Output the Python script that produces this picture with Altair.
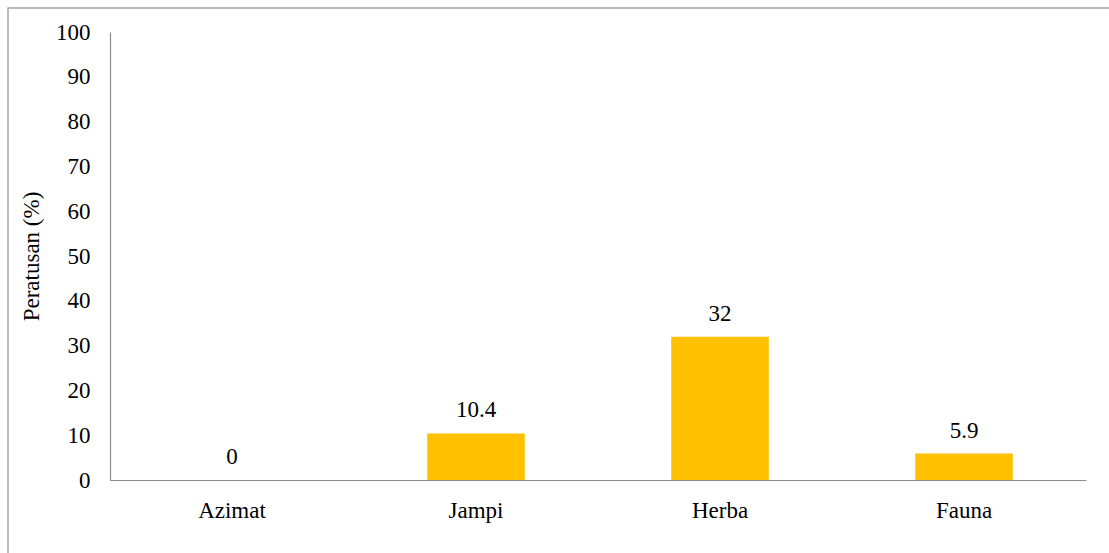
import altair as alt
import pandas as pd

categories = ["Azimat", "Jampi", "Herba", "Fauna"]
values = [0, 10.4, 32, 5.9]

df = pd.DataFrame({"kategori": categories, "nilai": values})

FONT = "Liberation Serif"
W, H = 976, 448

base = alt.Chart(df)

bars = base.mark_bar(color="#FFC000").encode(
    x=alt.X("kategori:N", sort=categories,
            scale=alt.Scale(paddingInner=0.6, paddingOuter=0.3),
            axis=alt.Axis(title=None, labelAngle=0, ticks=False, labelPadding=19,
                          labelFontSize=23, labelFont=FONT, labelColor="#000000",
                          domainColor="#8c8c8c", domainWidth=1.2)),
    y=alt.Y("nilai:Q", scale=alt.Scale(domain=[0, 100], nice=False),
            axis=alt.Axis(title="Peratusan (%)", values=list(range(0, 101, 10)),
                          grid=False, ticks=False, labelPadding=20,
                          labelFontSize=23, labelFont=FONT, labelColor="#000000",
                          titleFontSize=23, titleFont=FONT, titleFontWeight="normal",
                          titleColor="#000000", titleX=-67, titleY=H / 2,
                          titleAngle=-90, titleBaseline="bottom", titleAlign="center",
                          domainColor="#8c8c8c", domainWidth=1.2)),
)

labels = base.mark_text(baseline="alphabetic", dy=-16, fontSize=23, font=FONT,
                        color="#000000").encode(
    x=alt.X("kategori:N", sort=categories),
    y=alt.Y("nilai:Q"),
    text=alt.Text("nilai:Q", format="~g"),
)

border = alt.Chart(pd.DataFrame({"a": [0]})).mark_rect(
    fill="transparent", stroke="#a6a6a6", strokeWidth=1.5
).encode(
    x=alt.value(-102), x2=alt.value(W + 60),
    y=alt.value(-24), y2=alt.value(H + 120),
)

chart = alt.layer(border, bars, labels).properties(
    width=W, height=H,
    autosize=alt.AutoSizeParams(type="none"),
    padding={"left": 110, "top": 32, "right": 23, "bottom": 73},
).configure(background="#ffffff", font=FONT).configure_view(
    stroke="transparent", strokeWidth=0
)

chart.save("out.html", embed_options={"renderer": "svg", "actions": False})
